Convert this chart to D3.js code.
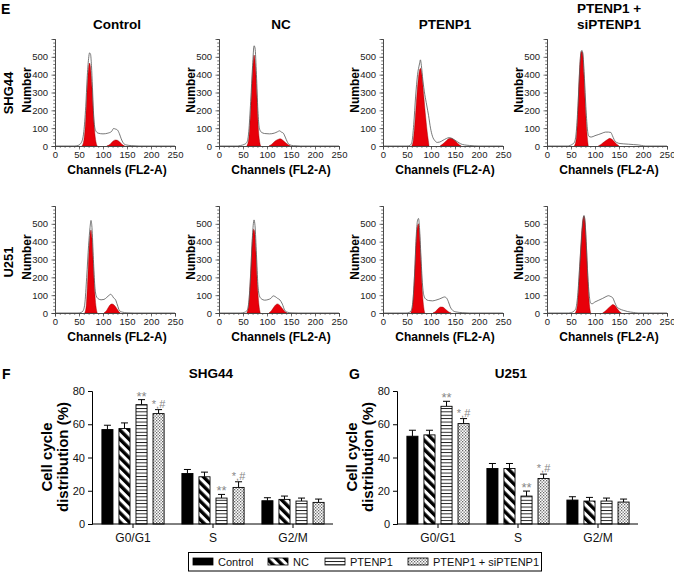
<!DOCTYPE html>
<html><head><meta charset="utf-8">
<script src="https://cdn.jsdelivr.net/npm/d3@7/dist/d3.min.js"></script>
<style>body{margin:0;background:#fff}svg{display:block}text{font-family:"Liberation Sans",Arial,sans-serif}</style>
</head><body>
<svg id="c" width="674" height="572"></svg>
<script>
// ---------- Histogram data (channel, count) ----------
const histTitles = ["Control", "NC", "PTENP1", "PTENP1 +\nsiPTENP1"];
const cellLines = ["SHG44", "U251"];
const xTicksHist = [0, 50, 100, 150, 200, 250];
const yTicksHist = [0, 100, 200, 300, 400, 500];

const shgControlOutline = [[0,0],[40,0],[48,3],[55,20],[60,80],[64,220],[67,380],[70,490],[72,522],[74,515],[76,450],[78,330],[80,200],[82,120],[85,85],[90,72],[100,68],[110,72],[118,82],[122,98],[126,95],[130,90],[134,70],[138,40],[142,18],[148,6],[160,2],[175,0],[250,0]];
const shgControlG1 = [[56,0],[60,30],[64,150],[67,320],[70,440],[72,465],[74,440],[77,330],[80,180],[83,70],[86,15],[88,0]];
const shgControlG2 = [[108,0],[115,10],[120,25],[126,34],[130,32],[135,22],[140,8],[145,0]];

const shgNCOutline = [[0,0],[38,0],[45,3],[52,8],[58,20],[62,80],[66,250],[70,450],[73,562],[75,550],[78,400],[81,200],[84,100],[88,78],[95,70],[105,68],[115,72],[122,80],[126,85],[130,78],[134,72],[138,50],[142,25],[146,8],[155,2],[170,0],[250,0]];
const shgNCG1 = [[58,0],[62,40],[66,200],[70,420],[73,510],[76,450],[79,280],[82,100],[85,20],[87,0]];
const shgNCG2 = [[104,0],[110,10],[117,28],[124,38],[128,40],[133,32],[139,18],[145,5],[149,0]];

const shgPTOutline = [[0,0],[50,0],[56,3],[60,20],[64,120],[68,280],[72,400],[76,460],[78,483],[80,450],[83,370],[87,290],[91,230],[95,170],[99,100],[103,55],[108,30],[113,20],[118,22],[125,32],[132,42],[138,47],[144,42],[150,32],[156,22],[162,12],[170,6],[180,3],[190,1],[200,0],[250,0]];
const shgPTG1 = [[60,0],[63,30],[67,150],[71,300],[75,410],[78,436],[81,400],[85,280],[89,160],[93,60],[96,0]];
const shgPTG2 = [[119,0],[125,12],[132,30],[138,42],[142,43],[148,35],[154,20],[159,7],[163,0]];

const shgSiOutline = [[0,0],[42,0],[48,3],[53,10],[57,20],[61,80],[65,250],[68,420],[71,530],[73,536],[75,510],[78,380],[81,220],[84,100],[87,55],[92,50],[100,58],[108,65],[115,72],[122,78],[128,78],[133,76],[136,60],[140,35],[145,20],[152,14],[160,12],[170,10],[180,8],[190,6],[197,3],[205,0],[250,0]];
const shgSiG1 = [[57,0],[61,40],[64,180],[67,380],[70,510],[72,530],[74,525],[77,400],[80,220],[83,80],[86,0]];
const shgSiG2 = [[107,0],[113,10],[120,25],[127,38],[131,43],[136,36],[141,22],[146,8],[150,0]];

const uControlOutline = [[0,0],[48,0],[54,3],[58,10],[62,50],[66,200],[70,380],[73,480],[75,519],[77,480],[80,300],[83,150],[86,95],[90,80],[96,74],[102,76],[108,88],[113,100],[116,105],[119,98],[122,85],[126,75],[130,45],[134,15],[140,5],[150,1],[165,0],[250,0]];
const uControlG1 = [[62,0],[65,40],[68,180],[71,360],[74,460],[75,466],[77,420],[80,260],[83,110],[86,25],[88,0]];
const uControlG2 = [[102,0],[107,12],[112,35],[117,50],[119,51],[123,45],[128,28],[133,8],[136,0]];

const uNCOutline = [[0,0],[45,0],[52,3],[58,12],[62,60],[66,220],[69,400],[72,510],[73,522],[75,490],[78,330],[81,160],[84,98],[88,80],[95,72],[102,75],[108,82],[113,96],[117,92],[122,82],[127,73],[132,50],[137,15],[142,5],[150,1],[165,0],[250,0]];
const uNCG1 = [[58,0],[62,50],[66,230],[69,390],[72,470],[74,460],[77,340],[80,160],[83,50],[86,0]];
const uNCG2 = [[104,0],[109,12],[114,32],[119,48],[122,51],[127,42],[132,25],[137,8],[142,0]];

const uPTOutline = [[0,0],[48,0],[54,3],[58,10],[62,60],[66,230],[69,420],[72,520],[74,530],[76,480],[79,320],[82,170],[85,100],[89,78],[95,70],[103,68],[110,72],[117,78],[123,85],[128,90],[132,85],[136,65],[140,35],[145,15],[152,6],[165,2],[180,0],[250,0]];
const uPTG1 = [[58,0],[62,50],[66,230],[69,400],[72,490],[74,500],[76,450],[79,290],[82,120],[85,30],[87,0]];
const uPTG2 = [[104,0],[110,10],[115,25],[120,34],[124,33],[129,24],[134,12],[139,3],[142,0]];

const uSiOutline = [[0,0],[45,0],[51,3],[56,10],[60,25],[64,100],[68,260],[72,420],[75,520],[77,547],[79,520],[82,380],[85,210],[88,100],[91,55],[94,52],[100,62],[108,72],[116,82],[123,92],[128,97],[133,92],[137,85],[141,60],[145,37],[152,22],[159,15],[168,8],[180,3],[190,0],[250,0]];
const uSiG1 = [[59,0],[63,40],[67,200],[71,400],[74,510],[77,543],[79,520],[82,380],[85,200],[88,60],[91,0]];
const uSiG2 = [[116,0],[122,12],[128,28],[134,42],[137,47],[142,40],[147,22],[152,6],[155,0]];

const histPanels = [
  [[shgControlOutline, shgControlG1, shgControlG2],[shgNCOutline, shgNCG1, shgNCG2],[shgPTOutline, shgPTG1, shgPTG2],[shgSiOutline, shgSiG1, shgSiG2]],
  [[uControlOutline, uControlG1, uControlG2],[uNCOutline, uNCG1, uNCG2],[uPTOutline, uPTG1, uPTG2],[uSiOutline, uSiG1, uSiG2]]
];

// ---------- Bar chart data ----------
const phases = ["G0/G1", "S", "G2/M"];
const treatments = ["Control", "NC", "PTENP1", "PTENP1 + siPTENP1"];
const barTicks = [0, 20, 40, 60, 80];
const shg44Mean = [[56.8, 57.4, 71.8, 66.4], [30.4, 28.4, 15.6, 22.0], [14.0, 14.8, 13.8, 13.0]];
const shg44Err  = [[2.6, 3.4, 3.0, 2.4], [2.4, 2.8, 2.2, 3.4], [1.8, 2.0, 1.8, 2.0]];
const u251Mean  = [[52.8, 53.6, 70.8, 60.4], [33.4, 33.4, 16.8, 27.4], [14.4, 13.8, 13.8, 13.2]];
const u251Err   = [[3.6, 2.8, 3.0, 3.0], [3.0, 3.0, 3.0, 2.6], [2.0, 2.2, 1.8, 1.8]];
const sigLabels = [["", "", "**", "*,#"], ["", "", "**", "*,#"], ["", "", "", ""]];

// ---------- Drawing ----------
const svg = d3.select("#c");
const FONT = '"Liberation Sans",Arial,sans-serif';
const defs = svg.append("defs");
const pDiag = defs.append("pattern").attr("id","diag").attr("patternUnits","userSpaceOnUse")
  .attr("width",6.5).attr("height",6.5).attr("patternTransform","rotate(-45)");
pDiag.append("rect").attr("width",6.5).attr("height",6.5).attr("fill","#fff");
pDiag.append("rect").attr("width",3.4).attr("height",6.5).attr("fill","#000");
const pHor = defs.append("pattern").attr("id","hor").attr("patternUnits","userSpaceOnUse")
  .attr("width",4).attr("height",3.4);
pHor.append("rect").attr("width",4).attr("height",3.4).attr("fill","#fff");
pHor.append("rect").attr("y",0).attr("width",4).attr("height",0.9).attr("fill","#111");
const pDot = defs.append("pattern").attr("id","dot").attr("patternUnits","userSpaceOnUse")
  .attr("width",3).attr("height",3);
pDot.append("rect").attr("width",3).attr("height",3).attr("fill","#fff");
pDot.append("rect").attr("x",0).attr("y",0).attr("width",1.3).attr("height",1.3).attr("fill","#666");
pDot.append("rect").attr("x",1.5).attr("y",1.5).attr("width",1.3).attr("height",1.3).attr("fill","#666");
const fills = ["#000", "url(#diag)", "url(#hor)", "url(#dot)"];

svg.append("text").attr("x",1).attr("y",14).attr("font-size",14).attr("font-weight","bold").text("E");

histPanels.forEach((row, r) => {
  const y0 = r === 0 ? 146 : 313;
  const y = d3.scaleLinear().domain([0, 600]).range([y0, y0 - 107]);
  const ry = r === 0 ? 93 : 262;
  svg.append("text").attr("transform",`translate(13,${ry}) rotate(-90)`).attr("text-anchor","middle")
    .attr("font-size",13).attr("font-weight","bold").text(cellLines[r]);
  row.forEach((panel, c) => {
    const ax = 55 + 164 * c;
    const x = d3.scaleLinear().domain([0, 250]).range([ax, ax + 120]);
    const g = svg.append("g");
    const [outline, g1, g2] = panel;
    const area = d3.area().x(d => x(d[0])).y0(y(0)).y1(d => y(d[1])).curve(d3.curveMonotoneX);
    const line = d3.line().x(d => x(d[0])).y(d => y(d[1])).curve(d3.curveMonotoneX);
    [g1, g2].forEach(a => g.append("path").attr("d", area(a)).attr("fill","#e8000a")
      .attr("stroke","#8a0000").attr("stroke-width",0.4));
    g.append("path").attr("d", line(outline)).attr("fill","none").attr("stroke","#555").attr("stroke-width",0.8);
    const ya = g.append("g").attr("transform",`translate(${ax},0)`);
    ya.call(d3.axisLeft(y).tickValues(d3.range(0, 601, 20)).tickSize(1.8).tickFormat(""));
    ya.append("g").call(d3.axisLeft(y).tickValues(yTicksHist).tickSize(3.5).tickFormat(d3.format("d")));
    const xa = g.append("g").attr("transform",`translate(0,${y0})`);
    xa.call(d3.axisBottom(x).tickValues(d3.range(0, 251, 10)).tickSize(1.8).tickFormat(""));
    xa.append("g").call(d3.axisBottom(x).tickValues(xTicksHist).tickSize(3.5).tickFormat(d3.format("d")));
    g.selectAll(".domain").attr("stroke","#444").attr("stroke-width",0.8);
    g.selectAll(".tick line").attr("stroke","#444").attr("stroke-width",0.7);
    g.selectAll(".tick text").attr("font-family",FONT).attr("font-size",9.5).attr("fill","#222");
    xa.selectAll(".tick text").attr("dy","0.6em");
    ya.selectAll(".tick text").attr("dx","-0.05em");
    g.append("text").attr("transform",`translate(${ax-24},${y0-56}) rotate(-90)`).attr("text-anchor","middle")
      .attr("font-size",12).attr("font-weight","bold").text("Number");
    g.append("text").attr("x",ax+62).attr("y",y0+28).attr("text-anchor","middle")
      .attr("font-size",12).attr("font-weight","bold").text("Channels (FL2-A)");
    if (r === 0) {
      const lines = histTitles[c].split("\n");
      lines.forEach((t, i) => {
        g.append("text").attr("x", ax + 62).attr("y", 29 - (lines.length - 1 - i) * 16)
          .attr("text-anchor","middle").attr("font-size",13.5).attr("font-weight","bold").text(t);
      });
    }
  });
});

// ---------- Bar charts ----------
function barChart(axX, xEnd, means, errs, title, letter, letterX, titleX) {
  const y = d3.scaleLinear().domain([0, 80]).range([524, 391]);
  const x = d3.scaleBand().domain(phases).range([axX + 1, xEnd]);
  const xi = d3.scaleBand().domain(treatments).range([-34, 34]).paddingInner(0.35).paddingOuter(0.17);
  const g = svg.append("g");
  phases.forEach((p, pi) => {
    treatments.forEach((t, ti) => {
      const cx = x(p) + x.bandwidth() / 2;
      const bx = cx + xi(t);
      const v = means[pi][ti], e = errs[pi][ti];
      const mid = bx + xi.bandwidth() / 2;
      g.append("line").attr("x1",mid).attr("x2",mid).attr("y1",y(v)).attr("y2",y(v + e))
        .attr("stroke","#000").attr("stroke-width",1);
      g.append("line").attr("x1",mid - 3.5).attr("x2",mid + 3.5).attr("y1",y(v + e)).attr("y2",y(v + e))
        .attr("stroke","#000").attr("stroke-width",1);
      g.append("rect").attr("x",bx).attr("y",y(v)).attr("width",xi.bandwidth()).attr("height",y(0) - y(v))
        .attr("fill",fills[ti]).attr("stroke","#000").attr("stroke-width",0.9);
      const s = sigLabels[pi][ti];
      if (s) g.append("text").attr("x",mid).attr("y",y(v + e) - (s === "**" ? -1 : 2)).attr("text-anchor","middle")
        .attr("font-size",s === "**" ? 13 : 11).attr("fill","#888").text(s);
    });
  });
  g.append("g").attr("transform",`translate(${axX},0)`)
    .call(d3.axisLeft(y).tickValues(barTicks).tickSize(4).tickPadding(3));
  const xa = g.append("g").attr("transform",`translate(0,524)`)
    .call(d3.axisBottom(x).tickSize(4).tickPadding(5).tickSizeOuter(0));
  xa.select(".domain").attr("d", `M${axX},0H${xEnd}`);
  g.selectAll(".domain").attr("stroke","#000").attr("stroke-width",1);
  g.selectAll(".tick line").attr("stroke","#000");
  g.selectAll(".tick text").attr("font-family",FONT).attr("font-size",11).attr("fill","#111");
  xa.selectAll(".tick text").attr("font-size",12);
  g.append("text").attr("transform",`translate(${axX-40},457) rotate(-90)`).attr("text-anchor","middle")
    .attr("font-size",15).attr("font-weight","bold").text("Cell cycle");
  g.append("text").attr("transform",`translate(${axX-24},457) rotate(-90)`).attr("text-anchor","middle")
    .attr("font-size",15).attr("font-weight","bold").text("distribution (%)");
  g.append("text").attr("x",titleX).attr("y",378).attr("text-anchor","middle")
    .attr("font-size",13.5).attr("font-weight","bold").text(title);
  g.append("text").attr("x",letterX).attr("y",379).attr("font-size",14).attr("font-weight","bold").text(letter);
}
barChart(92, 333, shg44Mean, shg44Err, "SHG44", "F", 2, 211);
barChart(397, 638, u251Mean, u251Err, "U251", "G", 349, 511);

// ---------- Legend ----------
const lg = svg.append("g");
lg.append("rect").attr("x",188.5).attr("y",552.5).attr("width",353).attr("height",18.5)
  .attr("fill","#fff").attr("stroke","#000").attr("stroke-width",1);
const legX = [193, 268, 325, 408];
treatments.forEach((t, i) => {
  lg.append("rect").attr("x",legX[i]).attr("y",558).attr("width",20).attr("height",7)
    .attr("fill",fills[i]).attr("stroke","#000").attr("stroke-width",0.8);
  lg.append("text").attr("x",legX[i] + 25).attr("y",566).attr("font-size",11).attr("fill","#111").text(t);
});
</script>
</body></html>
